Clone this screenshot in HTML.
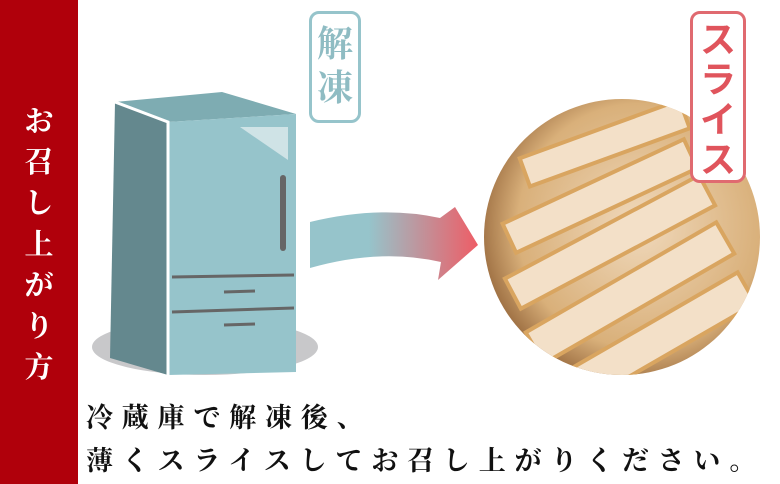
<!DOCTYPE html>
<html><head><meta charset="utf-8"><style>
body{margin:0;width:780px;height:484px;background:#fff;position:relative;overflow:hidden;font-family:"Liberation Serif","Noto Serif CJK SC",serif}
.bar{position:absolute;left:0;top:0;width:78px;height:484px;background:#b0000b}
.vt{position:absolute;left:0;width:78px;text-align:center;color:#fff;font-size:29px;font-weight:bold;line-height:41px;top:102px}
.box{position:absolute;border:3px solid;border-radius:10px;background:#fff;text-align:center;font-weight:bold}
.t{position:absolute;left:86px;font-size:27px;font-weight:bold;letter-spacing:8.8px;color:#111;white-space:nowrap}
</style></head><body>
<div class="bar"></div>
<div class="vt">お<br>召<br>し<br>上<br>が<br>り<br>方</div>
<svg width="780" height="484" style="position:absolute;left:0;top:0">
<defs>
<linearGradient id="ag" x1="310" y1="0" x2="478" y2="0" gradientUnits="userSpaceOnUse"><stop offset="0.35" stop-color="#96c4cb"/><stop offset="1" stop-color="#ee5d66"/></linearGradient>
<radialGradient id="fg" cx="0.55" cy="0.45" r="0.6"><stop offset="0" stop-color="#f0d9bc"/><stop offset="0.7" stop-color="#d9b07a"/><stop offset="1" stop-color="#8a5a30"/></radialGradient>
<clipPath id="cc"><circle cx="622" cy="237" r="138"/></clipPath>
</defs>
<ellipse cx="205" cy="347" rx="113" ry="28" fill="#c8c8ca"/>
<polygon points="115,102 222,92 296,114 168,122" fill="#7eacb2"/>
<polygon points="115,102 168,122 168,375 110,358" fill="#64888e"/>
<polygon points="168,122 296,114 296,372 168,375" fill="#96c4cb"/>
<polyline points="115,102 168,122 168,375" fill="none" stroke="#fff" stroke-width="3"/>
<line x1="172" y1="277" x2="294" y2="275" stroke="#666" stroke-width="3"/>
<line x1="172" y1="312" x2="294" y2="308" stroke="#666" stroke-width="3"/>
<rect x="280" y="175" width="6" height="76" rx="3" fill="#666"/>
<line x1="224" y1="292" x2="255" y2="291" stroke="#666" stroke-width="3"/>
<line x1="224" y1="325" x2="255" y2="324" stroke="#666" stroke-width="3"/>
<polygon points="240,127 288,127 288,160" fill="#cfe3e6"/>
<path d="M310,222 Q380,205 440,218 L455,207 L478,245 L438,280 L441,262 Q380,248 310,268 Z" fill="url(#ag)"/>
<g clip-path="url(#cc)">
<rect x="480" y="95" width="290" height="290" fill="url(#fg)"/>
<g fill="#f3e0c8" stroke="#d9a560" stroke-width="4">
<rect x="520" y="130" width="170" height="30" transform="rotate(-20 600 145)"/>
<rect x="500" y="180" width="200" height="32" transform="rotate(-25 600 196)"/>
<rect x="500" y="225" width="220" height="34" transform="rotate(-28 610 242)"/>
<rect x="520" y="275" width="220" height="36" transform="rotate(-30 630 293)"/>
<rect x="560" y="320" width="200" height="36" transform="rotate(-30 660 338)"/>
</g>
</g>
</svg>
<div class="box" style="left:309px;top:11px;width:52px;border-color:#96c4cb;color:#8fbcc3;font-size:36px;line-height:44px;padding-top:8px;box-sizing:border-box;height:112px">解<br>凍</div>
<div class="box" style="left:690px;top:11px;width:56px;height:172px;border-color:#e06a70;color:#e0545c;font-size:36px;line-height:40px;padding-top:6px;box-sizing:border-box;font-family:'Liberation Sans','Noto Sans CJK JP',sans-serif">ス<br>ラ<br>イ<br>ス</div>
<div class="t" style="top:396px">冷蔵庫で解凍後、</div>
<div class="t" style="top:439px">薄くスライスしてお召し上がりください。</div>
</body></html>
